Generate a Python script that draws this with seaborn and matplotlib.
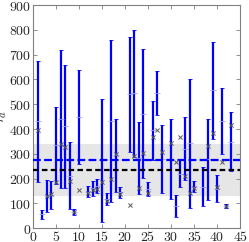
"""Interval chart of tau_a per index with reference band and dashed levels."""

import numpy as np
import pandas as pd
import matplotlib
matplotlib.use("Agg")
import matplotlib.pyplot as plt
import seaborn as sns

# values
index = [1, 2, 3, 4, 5, 6, 7, 8, 9, 10, 12, 13, 14, 15, 16, 17, 18, 19,
         21, 22, 23, 24, 25, 26, 27, 28, 30, 31, 32, 33, 34, 35, 37, 38,
         39, 40, 41, 42, 43]
low = [186, 37, 65, 78, 180, 162, 163, 77, 52, 261, 125, 130, 140, 27, 92,
       107, 148, 123, 309, 289, 138, 202, 130, 276, 455, 142, 116, 47, 165,
       195, 82, 146, 88, 114, 361, 104, 298, 80, 229]
high = [675, 74, 195, 190, 488, 720, 658, 347, 78, 637, 170, 192, 200, 523,
        140, 760, 441, 166, 773, 800, 430, 723, 188, 514, 636, 418, 441, 134,
        275, 448, 603, 189, 245, 441, 752, 214, 566, 97, 469]
point = [395, np.nan, 128, 138, 185, 338, 328, 190, 67, 154, 140, 155, 160,
         187, 110, 197, 298, 136, 92, 290, 161, 303, 141, 368, 397, 308, 345,
         268, 369, 209, 142, 164, np.nan, 330, 385, 165, 267, 88, 416]

band_low, band_high = 128, 340
level_black = 233
level_blue = 277

df = pd.DataFrame({"index": index, "low": low, "high": high, "point": point})
df["mid"] = (df["low"] + df["high"]) / 2

sns.set_style("ticks")
plt.rcParams["mathtext.fontset"] = "cm"
plt.rcParams["font.size"] = 8

fig = plt.figure(figsize=(2.49, 2.42), dpi=100)
ax = fig.add_axes([0.1325, 0.057, 0.832, 0.922])

ax.axhspan(band_low, band_high, color="#e6e6e6", lw=0, zorder=0)

ax.errorbar(df["index"], df["mid"], yerr=[df["mid"] - df["low"], df["high"] - df["mid"]],
            fmt="_", color="blue", ecolor="blue", elinewidth=1.6, capsize=1.2,
            capthick=0.8, markersize=4, mec="#a0a0ff", mew=0.6, zorder=2)

ax.axhline(level_black, color="black", ls=(0, (2.5, 1.5)), lw=1.6, zorder=3)
ax.axhline(level_blue, color="blue", ls=(0, (3.5, 1.5)), lw=1.6, zorder=3)

sns.scatterplot(data=df, x="index", y="point", marker="x", s=9, color="0.35",
                linewidth=0.7, ax=ax, zorder=4)

ax.set_xlim(0, 45)
ax.set_ylim(0, 900)
ax.set_xticks(np.arange(0, 46, 5))
ax.set_yticks(np.arange(0, 901, 100))
ax.set_xticklabels([f"${v}$" for v in range(0, 46, 5)])
ax.set_yticklabels([f"${v}$" for v in range(0, 901, 100)])
ax.tick_params(direction="in", top=True, right=True, length=3, width=0.6,
               color="0.5", labelsize=10, pad=1)
for s in ax.spines.values():
    s.set_color("0.5")
    s.set_linewidth(0.8)
ax.set_xlabel("")
ax.set_ylabel(r"$\tau_a$", fontsize=11, labelpad=0)

fig.savefig("out.png", dpi=100)
